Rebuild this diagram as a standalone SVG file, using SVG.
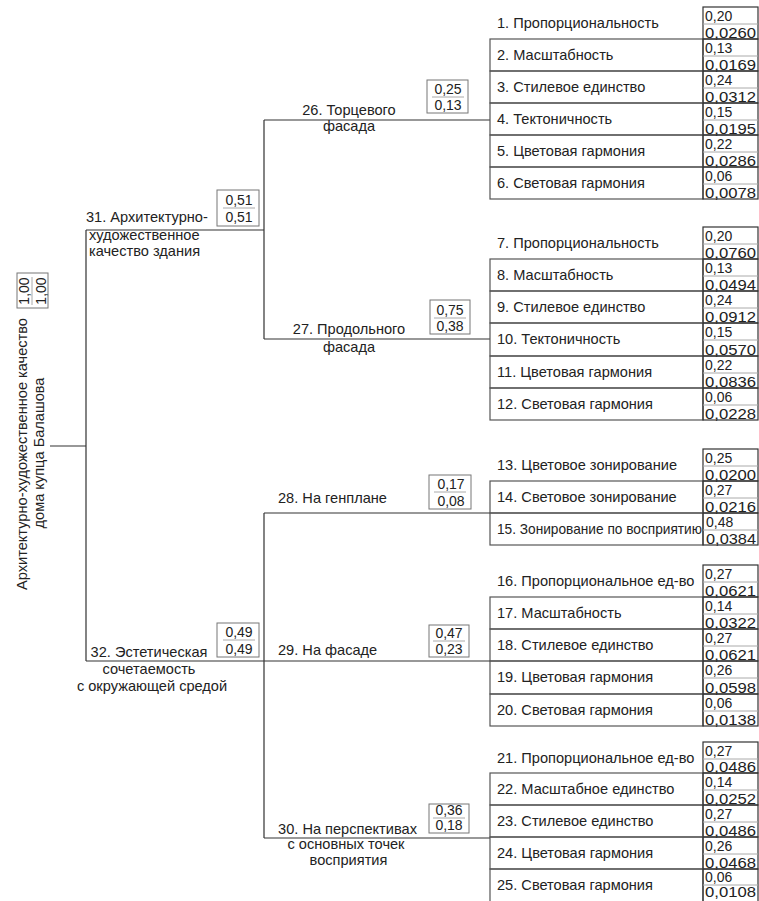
<svg xmlns="http://www.w3.org/2000/svg" width="759" height="901" viewBox="0 0 759 901">
<style>
text{font-family:"Liberation Sans",Arial,sans-serif;fill:#222}
.lbl{font-size:14.6px}
.num{font-size:14px}
.c{text-anchor:middle}
.row{fill:none;stroke:#555;stroke-width:1.2}
.vbox{fill:none;stroke:#333;stroke-width:1.2}
.ibox{fill:none;stroke:#777;stroke-width:1}
.frac{stroke:#aaa;stroke-width:1}
#connectors path{fill:none;stroke:#333;stroke-width:1.2}
</style>
<rect width="759" height="901" fill="#fff"/>
<g id="connectors">
<path d="M50 446H86M86 230V661M86 230H264M86 661H490M264 120V339M264 120H490M264 339H490M264 513V838M264 513H490M264 838H490"/>
</g>
<g id="root">
<text class="lbl c" transform="translate(27,454) rotate(-90)">Архитектурно-художественное качество</text>
<text class="lbl c" transform="translate(44,453) rotate(-90)">дома купца Балашова</text>
<rect class="ibox" x="17" y="273" width="31" height="35"/>
<line class="frac" x1="32" y1="277" x2="32" y2="305"/>
<text class="num c" transform="translate(29,291) rotate(-90)">1,00</text>
<text class="num c" transform="translate(46,291) rotate(-90)">1,00</text>
</g>
<g id="n31">
<text class="lbl" x="86" y="222">31. Архитектурно-</text>
<text class="lbl" x="89" y="240">художественное</text>
<text class="lbl" x="89" y="256">качество здания</text>
<rect class="ibox" x="217" y="190" width="42" height="36"/>
<line class="frac" x1="223" y1="208" x2="255" y2="208"/>
<text class="num c" x="239" y="205">0,51</text>
<text class="num c" x="239" y="222">0,51</text>
</g>
<g id="n32">
<text class="lbl c" x="149" y="657">32. Эстетическая</text>
<text class="lbl c" x="149" y="674">сочетаемость</text>
<text class="lbl c" x="152" y="691">с окружающей средой</text>
<rect class="ibox" x="217" y="623" width="42" height="34"/>
<line class="frac" x1="223" y1="640" x2="255" y2="640"/>
<text class="num c" x="239" y="637">0,49</text>
<text class="num c" x="239" y="654">0,49</text>
</g>
<g id="n26">
<text class="lbl c" x="349" y="115">26. Торцевого</text>
<text class="lbl c" x="349" y="131">фасада</text>
<rect class="ibox" x="427" y="80" width="41" height="33"/>
<line class="frac" x1="432" y1="97" x2="464" y2="97"/>
<text class="num c" x="448" y="94">0,25</text>
<text class="num c" x="448" y="110">0,13</text>
</g>
<g id="n27">
<text class="lbl c" x="349" y="334">27. Продольного</text>
<text class="lbl c" x="349" y="352">фасада</text>
<rect class="ibox" x="430" y="300" width="40" height="34"/>
<line class="frac" x1="434" y1="318" x2="466" y2="318"/>
<text class="num c" x="450" y="315">0,75</text>
<text class="num c" x="450" y="331">0,38</text>
</g>
<g id="n28">
<text class="lbl" x="278" y="503">28. На генплане</text>
<rect class="ibox" x="429" y="475" width="42" height="34"/>
<line class="frac" x1="434" y1="492" x2="466" y2="492"/>
<text class="num c" x="451" y="489">0,17</text>
<text class="num c" x="451" y="506">0,08</text>
</g>
<g id="n29">
<text class="lbl" x="278" y="655">29. На фасаде</text>
<rect class="ibox" x="429" y="625" width="40" height="32"/>
<line class="frac" x1="433" y1="641" x2="465" y2="641"/>
<text class="num c" x="449" y="638">0,47</text>
<text class="num c" x="449" y="654">0,23</text>
</g>
<g id="n30">
<text class="lbl c" x="347.5" y="834">30. На перспективах</text>
<text class="lbl c" x="346" y="849">с основных точек</text>
<text class="lbl c" x="348.5" y="865">восприятия</text>
<rect class="ibox" x="429" y="804" width="40" height="29"/>
<line class="frac" x1="433" y1="818" x2="465" y2="818"/>
<text class="num c" x="449" y="815">0,36</text>
<text class="num c" x="449" y="830">0,18</text>
</g>
<g id="i1"><text class="lbl" x="497" y="28">1. Пропорциональность</text><rect class="vbox" x="703" y="7" width="55" height="32"/><line class="frac" x1="703" y1="24" x2="758" y2="24"/><text class="num" x="705" y="21">0,20</text><text class="num" x="705" y="37.5" textLength="51" lengthAdjust="spacingAndGlyphs">0,0260</text></g>
<g id="i2"><rect class="row" x="490" y="39" width="213" height="32"/><text class="lbl" x="497" y="60">2. Масштабность</text><rect class="vbox" x="703" y="39" width="55" height="32"/><line class="frac" x1="703" y1="56" x2="758" y2="56"/><text class="num" x="705" y="53">0,13</text><text class="num" x="705" y="69.5" textLength="51" lengthAdjust="spacingAndGlyphs">0,0169</text></g>
<g id="i3"><rect class="row" x="490" y="71" width="213" height="32"/><text class="lbl" x="497" y="92">3. Стилевое единство</text><rect class="vbox" x="703" y="71" width="55" height="32"/><line class="frac" x1="703" y1="88" x2="758" y2="88"/><text class="num" x="705" y="85">0,24</text><text class="num" x="705" y="101.5" textLength="51" lengthAdjust="spacingAndGlyphs">0,0312</text></g>
<g id="i4"><rect class="row" x="490" y="103" width="213" height="32"/><text class="lbl" x="497" y="124">4. Тектоничность</text><rect class="vbox" x="703" y="103" width="55" height="32"/><line class="frac" x1="703" y1="120" x2="758" y2="120"/><text class="num" x="705" y="117">0,15</text><text class="num" x="705" y="133.5" textLength="51" lengthAdjust="spacingAndGlyphs">0,0195</text></g>
<g id="i5"><rect class="row" x="490" y="135" width="213" height="32"/><text class="lbl" x="497" y="156">5. Цветовая гармония</text><rect class="vbox" x="703" y="135" width="55" height="32"/><line class="frac" x1="703" y1="152" x2="758" y2="152"/><text class="num" x="705" y="149">0,22</text><text class="num" x="705" y="165.5" textLength="51" lengthAdjust="spacingAndGlyphs">0,0286</text></g>
<g id="i6"><rect class="row" x="490" y="167" width="213" height="32"/><text class="lbl" x="497" y="188">6. Световая гармония</text><rect class="vbox" x="703" y="167" width="55" height="32"/><line class="frac" x1="703" y1="184" x2="758" y2="184"/><text class="num" x="705" y="181">0,06</text><text class="num" x="705" y="197.5" textLength="51" lengthAdjust="spacingAndGlyphs">0,0078</text></g>
<g id="i7"><text class="lbl" x="497" y="248">7. Пропорциональность</text><rect class="vbox" x="703" y="227" width="55" height="32"/><line class="frac" x1="703" y1="244" x2="758" y2="244"/><text class="num" x="705" y="241">0,20</text><text class="num" x="705" y="257.5" textLength="51" lengthAdjust="spacingAndGlyphs">0,0760</text></g>
<g id="i8"><rect class="row" x="490" y="259" width="213" height="32"/><text class="lbl" x="497" y="280">8. Масштабность</text><rect class="vbox" x="703" y="259" width="55" height="32"/><line class="frac" x1="703" y1="276" x2="758" y2="276"/><text class="num" x="705" y="273">0,13</text><text class="num" x="705" y="289.5" textLength="51" lengthAdjust="spacingAndGlyphs">0,0494</text></g>
<g id="i9"><rect class="row" x="490" y="291" width="213" height="32"/><text class="lbl" x="497" y="312">9. Стилевое единство</text><rect class="vbox" x="703" y="291" width="55" height="32"/><line class="frac" x1="703" y1="308" x2="758" y2="308"/><text class="num" x="705" y="305">0,24</text><text class="num" x="705" y="321.5" textLength="51" lengthAdjust="spacingAndGlyphs">0,0912</text></g>
<g id="i10"><rect class="row" x="490" y="323" width="213" height="33"/><text class="lbl" x="497" y="344">10. Тектоничность</text><rect class="vbox" x="703" y="323" width="55" height="33"/><line class="frac" x1="703" y1="340" x2="758" y2="340"/><text class="num" x="705" y="337">0,15</text><text class="num" x="705" y="354.5" textLength="51" lengthAdjust="spacingAndGlyphs">0,0570</text></g>
<g id="i11"><rect class="row" x="490" y="356" width="213" height="32"/><text class="lbl" x="497" y="377">11. Цветовая гармония</text><rect class="vbox" x="703" y="356" width="55" height="32"/><line class="frac" x1="703" y1="373" x2="758" y2="373"/><text class="num" x="705" y="370">0,22</text><text class="num" x="705" y="386.5" textLength="51" lengthAdjust="spacingAndGlyphs">0,0836</text></g>
<g id="i12"><rect class="row" x="490" y="388" width="213" height="32"/><text class="lbl" x="497" y="409">12. Световая гармония</text><rect class="vbox" x="703" y="388" width="55" height="32"/><line class="frac" x1="703" y1="405" x2="758" y2="405"/><text class="num" x="705" y="402">0,06</text><text class="num" x="705" y="418.5" textLength="51" lengthAdjust="spacingAndGlyphs">0,0228</text></g>
<g id="i13"><text class="lbl" x="497" y="470">13. Цветовое зонирование</text><rect class="vbox" x="703" y="449" width="55" height="32"/><line class="frac" x1="703" y1="466" x2="758" y2="466"/><text class="num" x="705" y="463">0,25</text><text class="num" x="705" y="479.5" textLength="51" lengthAdjust="spacingAndGlyphs">0,0200</text></g>
<g id="i14"><rect class="row" x="490" y="481" width="213" height="32"/><text class="lbl" x="497" y="502">14. Световое зонирование</text><rect class="vbox" x="703" y="481" width="55" height="32"/><line class="frac" x1="703" y1="498" x2="758" y2="498"/><text class="num" x="705" y="495">0,27</text><text class="num" x="705" y="511.5" textLength="51" lengthAdjust="spacingAndGlyphs">0,0216</text></g>
<g id="i15"><rect class="row" x="490" y="513" width="213" height="32"/><text class="lbl" x="497" y="534" textLength="205" lengthAdjust="spacingAndGlyphs">15. Зонирование по восприятию</text><rect class="vbox" x="703" y="513" width="55" height="32"/><line class="frac" x1="703" y1="530" x2="758" y2="530"/><text class="num" x="706" y="527">0,48</text><text class="num" x="706" y="543.5" textLength="50" lengthAdjust="spacingAndGlyphs">0,0384</text></g>
<g id="i16"><text class="lbl" x="497" y="586">16. Пропорциональное ед-во</text><rect class="vbox" x="703" y="565" width="55" height="32"/><line class="frac" x1="703" y1="582" x2="758" y2="582"/><text class="num" x="705" y="579">0,27</text><text class="num" x="705" y="595.5" textLength="51" lengthAdjust="spacingAndGlyphs">0,0621</text></g>
<g id="i17"><rect class="row" x="490" y="597" width="213" height="32"/><text class="lbl" x="497" y="618">17. Масштабность</text><rect class="vbox" x="703" y="597" width="55" height="32"/><line class="frac" x1="703" y1="614" x2="758" y2="614"/><text class="num" x="705" y="611">0,14</text><text class="num" x="705" y="627.5" textLength="51" lengthAdjust="spacingAndGlyphs">0,0322</text></g>
<g id="i18"><rect class="row" x="490" y="629" width="213" height="32"/><text class="lbl" x="497" y="650">18. Стилевое единство</text><rect class="vbox" x="703" y="629" width="55" height="32"/><line class="frac" x1="703" y1="646" x2="758" y2="646"/><text class="num" x="705" y="643">0,27</text><text class="num" x="705" y="659.5" textLength="51" lengthAdjust="spacingAndGlyphs">0,0621</text></g>
<g id="i19"><rect class="row" x="490" y="661" width="213" height="33"/><text class="lbl" x="497" y="682">19. Цветовая гармония</text><rect class="vbox" x="703" y="661" width="55" height="33"/><line class="frac" x1="703" y1="678" x2="758" y2="678"/><text class="num" x="705" y="675">0,26</text><text class="num" x="705" y="692.5" textLength="51" lengthAdjust="spacingAndGlyphs">0,0598</text></g>
<g id="i20"><rect class="row" x="490" y="694" width="213" height="32"/><text class="lbl" x="497" y="715">20. Световая гармония</text><rect class="vbox" x="703" y="694" width="55" height="32"/><line class="frac" x1="703" y1="711" x2="758" y2="711"/><text class="num" x="705" y="708">0,06</text><text class="num" x="705" y="724.5" textLength="51" lengthAdjust="spacingAndGlyphs">0,0138</text></g>
<g id="i21"><text class="lbl" x="497" y="763">21. Пропорциональное ед-во</text><rect class="vbox" x="703" y="742" width="55" height="31"/><line class="frac" x1="703" y1="759" x2="758" y2="759"/><text class="num" x="705" y="756">0,27</text><text class="num" x="705" y="771.5" textLength="51" lengthAdjust="spacingAndGlyphs">0,0486</text></g>
<g id="i22"><rect class="row" x="490" y="773" width="213" height="32"/><text class="lbl" x="497" y="794">22. Масштабное единство</text><rect class="vbox" x="703" y="773" width="55" height="32"/><line class="frac" x1="703" y1="790" x2="758" y2="790"/><text class="num" x="705" y="787">0,14</text><text class="num" x="705" y="803.5" textLength="51" lengthAdjust="spacingAndGlyphs">0,0252</text></g>
<g id="i23"><rect class="row" x="490" y="805" width="213" height="32"/><text class="lbl" x="497" y="826">23. Стилевое единство</text><rect class="vbox" x="703" y="805" width="55" height="32"/><line class="frac" x1="703" y1="822" x2="758" y2="822"/><text class="num" x="705" y="819">0,27</text><text class="num" x="705" y="835.5" textLength="51" lengthAdjust="spacingAndGlyphs">0,0486</text></g>
<g id="i24"><rect class="row" x="490" y="837" width="213" height="32"/><text class="lbl" x="497" y="858">24. Цветовая гармония</text><rect class="vbox" x="703" y="837" width="55" height="32"/><line class="frac" x1="703" y1="854" x2="758" y2="854"/><text class="num" x="705" y="851">0,26</text><text class="num" x="705" y="867.5" textLength="51" lengthAdjust="spacingAndGlyphs">0,0468</text></g>
<g id="i25"><rect class="row" x="490" y="869" width="213" height="34"/><text class="lbl" x="497" y="890">25. Световая гармония</text><rect class="vbox" x="703" y="869" width="55" height="34"/><line class="frac" x1="703" y1="885" x2="758" y2="885"/><text class="num" x="705" y="882">0,06</text><text class="num" x="705" y="897" textLength="51" lengthAdjust="spacingAndGlyphs">0,0108</text></g>
</svg>
